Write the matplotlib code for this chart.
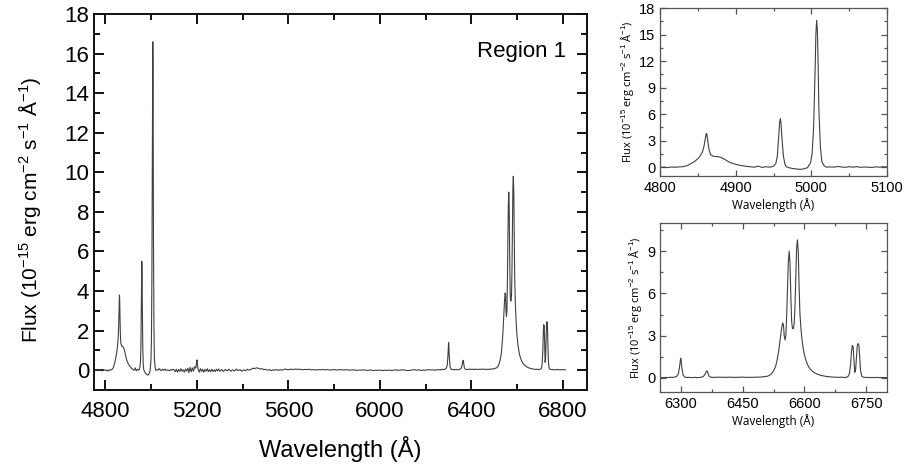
import matplotlib
matplotlib.use("Agg")
import matplotlib.pyplot as plt
from matplotlib.ticker import MultipleLocator

plt.rcParams["axes.unicode_minus"] = False
plt.rcParams["mathtext.fontset"] = "custom"
plt.rcParams["mathtext.rm"] = "Liberation Sans"
plt.rcParams["mathtext.it"] = "Liberation Sans:italic"
plt.rcParams["mathtext.bf"] = "Liberation Sans:bold"

# ---------------- data ----------------
wave_blue = [4750, 4755, 4760, 4765, 4770, 4775, 4780, 4785, 4790, 4795, 4800, 4805, 4810, 4815, 4820, 4825, 4830,
             4835, 4840, 4845, 4850, 4853, 4856, 4858, 4860, 4861, 4862, 4863, 4865, 4867, 4870, 4873, 4876, 4879,
             4882, 4885, 4888, 4891, 4894, 4897, 4900, 4905, 4910, 4915, 4920, 4925, 4930, 4935, 4940, 4945, 4948,
             4950, 4953, 4955, 4957, 4958, 4959, 4960, 4961, 4963, 4965, 4967, 4970, 4975, 4980, 4985, 4990, 4995,
             4996, 4999, 5001, 5003, 5005, 5006, 5007, 5008, 5009, 5010, 5012, 5014, 5017, 5020,
             5025, 5030, 5035, 5040, 5045, 5050, 5055, 5060, 5065, 5070, 5075, 5080, 5085, 5090, 5095, 5100]
flux_blue = [0.02, -0.03, 0.01, -0.02, 0.03, -0.01, 0.02, -0.04, 0.00, 0.03, -0.02, 0.01, -0.05, 0.02, -0.01, 0.03, 0.05,
             0.15, 0.35, 0.60, 0.95, 1.25, 1.70, 2.30, 3.30, 3.80, 3.70, 3.00, 1.90, 1.40, 1.25, 1.20, 1.20, 1.15,
             1.05, 0.90, 0.75, 0.60, 0.48, 0.40, 0.32, 0.22, 0.15, 0.08, 0.04, 0.00, 0.12, -0.03, 0.05, 0.00, 0.05,
             0.10, 0.40, 1.20, 3.60, 5.00, 5.50, 4.90, 3.50, 1.30, 0.35, 0.05, -0.05, -0.15, -0.20, -0.25, -0.20, -0.05,
             0.10, 0.50, 1.50, 4.50, 11.0, 15.0, 16.6, 15.5, 11.5, 6.50, 2.20, 0.60, 0.15, 0.00,
             0.03, 0.00, 0.08, 0.02, -0.02, 0.05, 0.00, 0.06, -0.02, 0.02, 0.00, -0.03, 0.03, 0.00, 0.05, 0.02]

wave_mid = [5105, 5110, 5115, 5120, 5125, 5130, 5135, 5140, 5145, 5150, 5155, 5160, 5165, 5170, 5175, 5180, 5185,
            5190, 5195, 5198, 5200, 5202, 5205, 5210, 5215, 5220, 5225, 5230, 5235, 5240, 5245, 5250, 5255, 5260,
            5265, 5270, 5275, 5280, 5285, 5290, 5295, 5300,
            5308, 5316, 5324, 5332, 5340, 5348, 5356, 5364, 5372, 5380, 5388, 5396, 5404, 5412, 5420, 5428, 5436,
            5444, 5452, 5460, 5468, 5476, 5484, 5492, 5500, 5508, 5516, 5524, 5532, 5540, 5548, 5556, 5564, 5572,
            5580, 5588, 5596,
            5610, 5620, 5630, 5640, 5650, 5660, 5670, 5680, 5690, 5700, 5710, 5720, 5730, 5740, 5750, 5760, 5770,
            5780, 5790, 5800, 5810, 5820, 5830, 5840, 5850, 5860, 5870, 5880, 5890, 5900, 5910, 5920, 5930, 5940,
            5950, 5960, 5970, 5980, 5990, 6000, 6010, 6020, 6030, 6040, 6050, 6060, 6070, 6080, 6090, 6100, 6110,
            6120, 6130, 6140, 6150, 6160, 6170, 6180, 6190, 6200, 6210, 6220, 6230, 6240, 6250]
flux_mid = [-0.08, 0.05, -0.10, 0.04, -0.06, 0.08, -0.05, 0.02, -0.10, 0.06, -0.04, 0.10, -0.12, 0.15, -0.08, 0.12, -0.05,
            0.18, 0.10, 0.35, 0.52, 0.30, 0.05, -0.10, 0.08, -0.06, 0.05, -0.10, 0.04, -0.05, 0.08, -0.07, 0.03, -0.08,
            0.05, -0.06, 0.02, -0.07, 0.05, -0.04, 0.06, -0.05,
            0.03, -0.06, 0.04, -0.03, 0.05, -0.05, 0.02, -0.04, 0.06, -0.02, 0.03, -0.05, 0.02, -0.03, 0.05, 0.00, 0.04,
            0.10, 0.08, 0.12, 0.10, 0.06, 0.08, 0.03, 0.05, 0.00, 0.03, -0.02, 0.02, 0.00, 0.04, -0.01, 0.03, 0.00,
            0.04, 0.06, 0.02,
            0.05, 0.03, 0.06, 0.04, 0.05, 0.02, 0.04, 0.03, 0.05, 0.02, 0.03, 0.01, 0.03, 0.02, 0.04, 0.02, 0.03,
            0.01, 0.02, 0.03, 0.01, 0.02, 0.03, 0.01, 0.02, 0.02, 0.00, 0.02, 0.01, -0.01, 0.01, 0.00, 0.02, -0.01,
            0.00, 0.01, -0.02, 0.00, -0.01, 0.01, -0.02, 0.00, -0.01, 0.01, -0.02, 0.00, 0.02, -0.01, 0.01, 0.02, 0.00,
            -0.02, -0.01, 0.01, 0.03, 0.00, 0.02, -0.01, 0.01, 0.00, 0.03, 0.01, 0.02, 0.00, 0.02]

wave_red = [6255, 6260, 6265, 6270, 6275, 6280, 6285, 6290, 6294, 6297, 6299, 6300, 6301, 6303, 6306, 6310, 6315,
            6320, 6325, 6330, 6335, 6340, 6345, 6350, 6355, 6359, 6362, 6364, 6366, 6369, 6373, 6380, 6385, 6390,
            6395, 6400, 6405, 6410, 6415, 6420, 6425, 6430, 6435, 6440, 6445, 6450, 6455, 6460, 6465, 6470, 6475,
            6480, 6485, 6490, 6495, 6500, 6505, 6510, 6515, 6520, 6525, 6530, 6534, 6538, 6541, 6544, 6547, 6549,
            6551, 6553, 6555, 6557, 6559, 6561, 6563, 6565, 6567, 6569, 6571, 6573, 6575, 6577, 6579, 6581, 6583,
            6585, 6587, 6589, 6592, 6595, 6598, 6602, 6606, 6610, 6615, 6620, 6625, 6630, 6640, 6650, 6660, 6670,
            6680, 6690, 6695, 6700, 6705, 6709, 6712, 6714, 6716, 6718, 6720, 6722, 6724, 6726, 6728, 6730, 6732,
            6734, 6736, 6739, 6743, 6750, 6755, 6760, 6765, 6770, 6775, 6780, 6785, 6790, 6795, 6800, 6805, 6810]
flux_red = [0.03, 0.01, 0.04, 0.02, 0.05, 0.03, 0.06, 0.10, 0.25, 0.70, 1.20, 1.40, 1.30, 0.70, 0.20, 0.06, 0.03,
            0.04, 0.02, 0.03, 0.04, 0.02, 0.03, 0.05, 0.10, 0.25, 0.45, 0.50, 0.35, 0.12, 0.05, 0.03, 0.05, 0.04,
            0.06, 0.04, 0.05, 0.03, 0.06, 0.04, 0.05, 0.03, 0.05, 0.04, 0.05, 0.06, 0.04, 0.05, 0.03, 0.05, 0.04,
            0.05, 0.06, 0.05, 0.07, 0.08, 0.10, 0.12, 0.18, 0.30, 0.50, 0.80, 1.30, 2.00, 2.70, 3.40, 3.90, 3.80,
            3.00, 2.70, 3.00, 4.50, 6.50, 8.30, 9.00, 8.20, 5.80, 4.00, 3.50, 3.50, 3.80, 5.00, 7.20, 9.20, 9.80,
            9.00, 6.50, 4.60, 3.30, 2.50, 1.90, 1.40, 1.05, 0.80, 0.60, 0.45, 0.35, 0.28, 0.18, 0.12, 0.08, 0.06,
            0.04, 0.05, 0.03, 0.04, 0.08, 0.30, 1.00, 1.90, 2.30, 2.20, 1.20, 0.40, 0.60, 1.50, 2.30, 2.45, 2.30,
            1.40, 0.50, 0.12, 0.05, 0.03, 0.04, 0.02, 0.03, 0.02, 0.04, 0.02, 0.03, 0.02, 0.03, 0.02, 0.03, 0.02]

wavelength = wave_blue + wave_mid + wave_red
flux = flux_blue + flux_mid + flux_red

FLUX_LABEL = r"Flux (10$^{-15}$ erg cm$^{-2}$ s$^{-1}$ Å$^{-1}$)"

# ---------------- figure ----------------
W, H = 905, 470
fig = plt.figure(figsize=(W / 100, H / 100), dpi=100)
fig.patch.set_facecolor("white")

def px_axes(l, t, r, b):
    return fig.add_axes([l / W, 1 - b / H, (r - l) / W, (b - t) / H])

ARIAL = ["Liberation Sans", "DejaVu Sans"]
CAL = ["Open Sans", "DejaVu Sans"]

def style(ax, lw, ticklen, color, labelsize):
    for s in ax.spines.values():
        s.set_linewidth(lw)
        s.set_color(color)
    ax.tick_params(which="both", direction="in", top=True, right=True, colors=color,
                   labelcolor="black", labelsize=labelsize, width=lw)
    ax.tick_params(which="major", length=ticklen)
    ax.tick_params(which="minor", length=ticklen * 0.6)
    for lab in ax.get_xticklabels() + ax.get_yticklabels():
        lab.set_family(ARIAL)

# Main panel
ax = px_axes(94, 14, 587, 390)
ax.plot(wavelength, flux, color="#404040", lw=0.8)
ax.set_xlim(4750, 6905)
ax.set_ylim(-1, 18)
ax.xaxis.set_major_locator(MultipleLocator(400))
ax.xaxis.set_minor_locator(MultipleLocator(200))
ax.yaxis.set_major_locator(MultipleLocator(2))
ax.yaxis.set_minor_locator(MultipleLocator(1))
style(ax, 1.4, 7, "#111111", 16)
ax.tick_params(axis="x", pad=8)
ax.set_xlabel("Wavelength (Å)", family=ARIAL, fontsize=17, labelpad=10)
ax.set_ylabel(FLUX_LABEL, family=ARIAL, fontsize=15, labelpad=10)
ax.yaxis.set_label_coords(-0.104, 0.48)
ax.text(0.868, 0.9, "Region 1", transform=ax.transAxes, ha="center", va="center",
        family=ARIAL, fontsize=16)

# Top-right panel
ax1 = px_axes(660, 8, 887, 176)
ax1.plot(wavelength, flux, color="#404040", lw=0.8)
ax1.set_xlim(4800, 5100)
ax1.set_ylim(-1, 18)
ax1.xaxis.set_major_locator(MultipleLocator(100))
ax1.xaxis.set_minor_locator(MultipleLocator(50))
ax1.yaxis.set_major_locator(MultipleLocator(3))
ax1.yaxis.set_minor_locator(MultipleLocator(1.5))
style(ax1, 0.9, 4, "#555555", 10.5)
ax1.set_xlabel("Wavelength (Å)", family=CAL, fontsize=8.5, labelpad=2)
ax1.set_ylabel(FLUX_LABEL, family=CAL, fontsize=8, labelpad=2)

# Bottom-right panel
ax2 = px_axes(660, 223, 887, 392)
ax2.plot(wavelength, flux, color="#404040", lw=0.8)
ax2.set_xlim(6250, 6800)
ax2.set_ylim(-1, 11)
ax2.xaxis.set_major_locator(MultipleLocator(150))
ax2.xaxis.set_minor_locator(MultipleLocator(75))
ax2.yaxis.set_major_locator(MultipleLocator(3))
ax2.yaxis.set_minor_locator(MultipleLocator(1.5))
style(ax2, 0.9, 4, "#555555", 10.5)
ax2.set_xlabel("Wavelength (Å)", family=CAL, fontsize=8.5, labelpad=2)
ax2.set_ylabel(FLUX_LABEL, family=CAL, fontsize=8, labelpad=2)

fig.savefig("out.png", dpi=100)
